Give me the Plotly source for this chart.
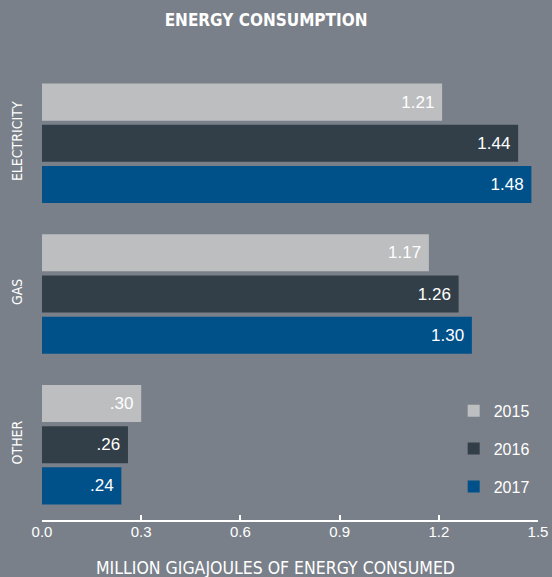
import plotly.graph_objects as go

categories = ["ELECTRICITY", "GAS", "OTHER"]
years = ["2015", "2016", "2017"]
values_2015 = [1.21, 1.17, 0.30]
values_2016 = [1.44, 1.26, 0.26]
values_2017 = [1.48, 1.30, 0.24]
labels_2015 = ["1.21", "1.17", ".30"]
labels_2016 = ["1.44", "1.26", ".26"]
labels_2017 = ["1.48", "1.30", ".24"]
x_ticks = [0.0, 0.3, 0.6, 0.9, 1.2, 1.5]

BG = "#7a8089"
colors = ["#bdbec0", "#333f48", "#00508a"]
NARROW = "DejaVu Sans Condensed, Liberation Sans Narrow, sans-serif"

fig = go.Figure()
for year, vals, labs, col in zip(years,
                                 [values_2015, values_2016, values_2017],
                                 [labels_2015, labels_2016, labels_2017],
                                 colors):
    fig.add_trace(go.Bar(
        y=categories,
        x=vals,
        orientation="h",
        name=year,
        marker=dict(color=col, line=dict(width=0)),
        text=labs,
        texttemplate="%{text}\u00a0",
        textposition="inside",
        insidetextanchor="end",
        textfont=dict(color="white", size=17, family="Liberation Sans"),
        legendgroup=year,
    ))

fig.update_layout(
    width=552,
    height=577,
    paper_bgcolor=BG,
    plot_bgcolor=BG,
    margin=dict(l=42, r=14, t=68, b=57),
    barmode="group",
    bargap=0.18,
    bargroupgap=0.1,
    title=dict(text="<b>ENERGY CONSUMPTION</b>", x=0.482, xanchor="center",
               y=0.965, yanchor="middle",
               font=dict(family=NARROW, size=17, color="white")),
    legend=dict(x=0.83, y=0.279, xanchor="left", yanchor="top",
                bgcolor="rgba(0,0,0,0)",
                font=dict(family="Liberation Sans", size=16, color="white"),
                tracegroupgap=14, itemwidth=30),
    showlegend=True,
)
fig.update_xaxes(
    range=[0, 1.5],
    tickvals=x_ticks,
    ticktext=[f"{v:.1f}" for v in x_ticks],
    showgrid=False,
    zeroline=False,
    showline=True,
    linecolor="white",
    linewidth=2,
    ticks="inside",
    ticklen=5,
    tickwidth=2,
    tickcolor="white",
    ticklabelstandoff=-3,
    automargin=False,
    tickfont=dict(family="Liberation Sans", size=15, color="white"),
)
fig.update_yaxes(
    autorange="reversed",
    showgrid=False,
    zeroline=False,
    showline=False,
    tickangle=-90,
    ticklabelstandoff=16,
    automargin=False,
    tickfont=dict(family=NARROW, size=14, color="white"),
)
fig.add_annotation(
    text="MILLION GIGAJOULES OF ENERGY CONSUMED",
    xref="paper", yref="paper", x=0.47, y=-0.08,
    xanchor="center", yanchor="top", showarrow=False,
    font=dict(family=NARROW, size=17.5, color="white"),
)

# drop the default 8px page margin so the figure fills the window
fig.write_html("out.html", config={"displayModeBar": False},
               post_script="document.body.style.margin='0';")
